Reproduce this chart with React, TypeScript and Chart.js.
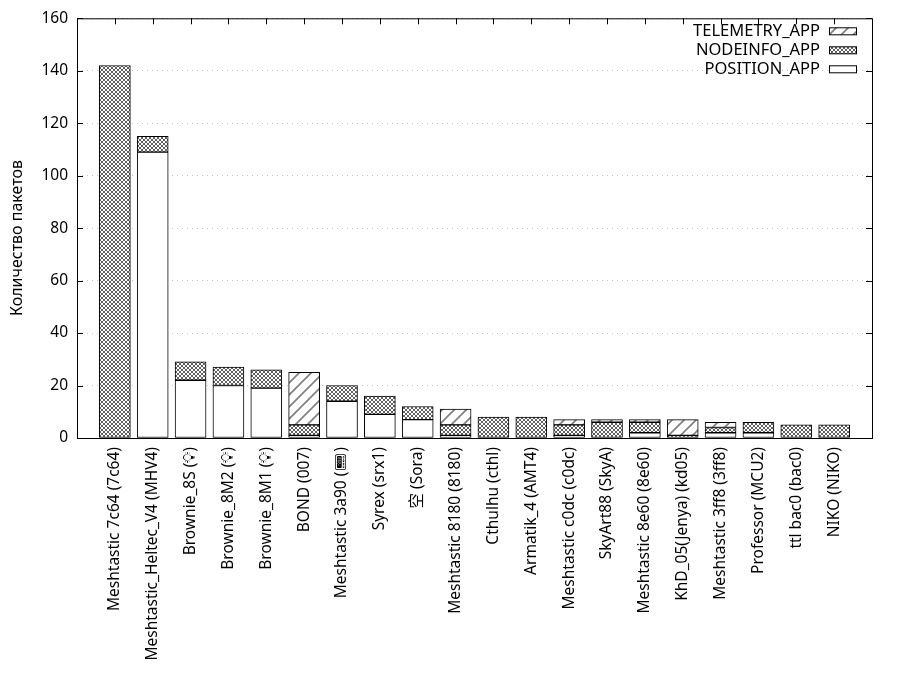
// Packet counts per node, stacked by port (gnuplot-style histogram)

import React, { useRef, useEffect } from 'react';
import { Chart, registerables } from 'chart.js';

Chart.register(...registerables);

const FONT = '"Noto Sans", "Noto Sans CJK SC", "DejaVu Sans", sans-serif';

const nodes = [
  'Meshtastic 7c64 (7c64)',
  'Meshtastic_Heltec_V4 (MHV4)',
  'Brownie_8S (💡\uFE0E)',
  'Brownie_8M2 (💡\uFE0E)',
  'Brownie_8M1 (💡\uFE0E)',
  'BOND (007)',
  'Meshtastic 3a90 (📟\uFE0E)',
  'Syrex (srx1)',
  '空 (Sora)',
  'Meshtastic 8180 (8180)',
  'Cthulhu (cthl)',
  'Armatik_4 (AMT4)',
  'Meshtastic c0dc (c0dc)',
  'SkyArt88 (SkyA)',
  'Meshtastic 8e60 (8e60)',
  'KhD_05(Jenya) (kd05)',
  'Meshtastic 3ff8 (3ff8)',
  'Professor (MCU2)',
  'ttl bac0 (bac0)',
  'NIKO (NIKO)',
];

const positionApp = [0, 109, 22, 20, 19, 1, 14, 9, 7, 1, 0, 0, 1, 0, 2, 0, 2, 2, 0, 0];
const nodeinfoApp = [142, 6, 7, 7, 7, 4, 6, 7, 5, 4, 8, 8, 4, 6, 4, 1, 2, 4, 5, 5];
const telemetryApp = [0, 0, 0, 0, 0, 20, 0, 0, 0, 6, 0, 0, 2, 1, 1, 6, 2, 0, 0, 0];

const yTicks = [0, 20, 40, 60, 80, 100, 120, 140, 160];
const yTitle = 'Количество пакетов';

function crossPattern(ctx: CanvasRenderingContext2D) {
  const c = document.createElement('canvas');
  c.width = 4;
  c.height = 4;
  const g = c.getContext('2d')!;
  g.fillStyle = '#fff';
  g.fillRect(0, 0, 4, 4);
  g.fillStyle = '#606060';
  for (let i = 0; i < 4; i++) {
    g.fillRect(i, i, 1, 1);
    g.fillRect(3 - i, i, 1, 1);
  }
  return ctx.createPattern(c, 'repeat')!;
}

function hatchPattern(ctx: CanvasRenderingContext2D) {
  const s = 12;
  const c = document.createElement('canvas');
  c.width = s;
  c.height = s;
  const g = c.getContext('2d')!;
  g.fillStyle = '#fff';
  g.fillRect(0, 0, s, s);
  g.strokeStyle = '#808080';
  g.lineWidth = 1.7;
  g.beginPath();
  g.moveTo(0, s);
  g.lineTo(s, 0);
  g.moveTo(-2, 2);
  g.lineTo(2, -2);
  g.moveTo(s - 2, s + 2);
  g.lineTo(s + 2, s - 2);
  g.stroke();
  return ctx.createPattern(c, 'repeat')!;
}

const orNull = (arr: number[]) => arr.map((v, i) => ({ x: i, y: v === 0 ? null : v }));

export default function App() {
  const canvasRef = useRef<HTMLCanvasElement>(null);
  const chartRef = useRef<Chart | null>(null);

  useEffect(() => {
    if (!canvasRef.current) return;
    if (chartRef.current) chartRef.current.destroy();
    const ctx = canvasRef.current.getContext('2d');
    if (!ctx) return;

    const cross = crossPattern(ctx);
    const hatch = hatchPattern(ctx);
    const white = '#ffffff';

    const legendItems = [
      { label: 'TELEMETRY_APP', fill: hatch },
      { label: 'NODEINFO_APP', fill: cross },
      { label: 'POSITION_APP', fill: white },
    ];

    const frame = {
      id: 'frame',
      afterDatasetsDraw(chart: any) {
        const { ctx: c, chartArea: a, scales } = chart;
        c.save();
        c.strokeStyle = '#000';
        c.lineWidth = 1;
        const line = (x1: number, y1: number, x2: number, y2: number) => {
          c.beginPath();
          c.moveTo(x1, y1);
          c.lineTo(x2, y2);
          c.stroke();
        };
        yTicks.forEach((v) => {
          const y = Math.round(scales.y.getPixelForValue(v)) + 0.5;
          line(a.left, y, a.left + 6, y);
          line(a.right - 6, y, a.right, y);
        });
        nodes.forEach((_, i) => {
          const x = Math.round(scales.x.getPixelForValue(i)) + 0.5;
          line(x, a.top, x, a.top + 6);
        });
        c.strokeRect(a.left + 0.5, a.top + 0.5, a.right - a.left, a.bottom - a.top);

        // legend, top right inside the plot
        c.font = `16.5px ${FONT}`;
        c.textAlign = 'right';
        c.textBaseline = 'middle';
        legendItems.forEach((item, k) => {
          const y = a.top + 13 + k * 19;
          c.fillStyle = '#000';
          c.fillText(item.label, 820, y);
          c.fillStyle = item.fill;
          c.fillRect(829.5, y - 3.5, 27, 7);
          c.strokeRect(829.5, y - 3.5, 27, 7);
        });

        // y axis title
        c.fillStyle = '#000';
        c.font = `16px ${FONT}`;
        c.translate(17, 238);
        c.rotate(-Math.PI / 2);
        c.textAlign = 'center';
        c.fillText(yTitle, 0, 0);
        c.restore();
      },
    };

    const common = {
      borderColor: '#000',
      borderWidth: 1,
      borderSkipped: false,
      barThickness: 31,
    };

    chartRef.current = new Chart(ctx, {
      type: 'bar',
      data: {
        datasets: [
          { label: 'POSITION_APP', data: orNull(positionApp), backgroundColor: white, ...common },
          { label: 'NODEINFO_APP', data: orNull(nodeinfoApp), backgroundColor: cross, ...common },
          { label: 'TELEMETRY_APP', data: orNull(telemetryApp), backgroundColor: hatch, ...common },
        ] as any,
      },
      options: {
        responsive: false,
        devicePixelRatio: 1,
        animation: false,
        layout: { padding: { top: 18, right: 28, left: 0, bottom: 0 } },
        plugins: {
          legend: { display: false },
          tooltip: { enabled: false },
        },
        scales: {
          x: {
            type: 'linear',
            stacked: true,
            offset: false,
            min: -1,
            max: 20,
            grid: { display: false, drawTicks: false, offset: false },
            border: { display: false },
            afterBuildTicks: (scale: any) => {
              scale.ticks = nodes.map((_, i) => ({ value: i }));
            },
            afterFit: (scale: any) => {
              scale.height = 262;
            },
            ticks: {
              autoSkip: false,
              minRotation: 90,
              maxRotation: 90,
              padding: 9,
              color: '#000',
              font: { family: FONT, size: 15.5 },
              callback: (value: any) => nodes[Math.round(Number(value))] ?? '',
            },
          },
          y: {
            stacked: true,
            min: 0,
            max: 160,
            grid: { color: '#c4c4c4', drawTicks: false, lineWidth: 1 },
            border: { display: false, dash: [1, 4] },
            afterFit: (scale: any) => {
              scale.width = 77;
            },
            ticks: {
              stepSize: 20,
              padding: 9,
              color: '#000',
              font: { family: FONT, size: 15.5 },
            },
          },
        },
      } as any,
      plugins: [frame],
    });

    return () => {
      if (chartRef.current) {
        chartRef.current.destroy();
        chartRef.current = null;
      }
    };
  }, []);

  return (
    <div style={{ position: 'fixed', left: 0, top: 0, width: 900, height: 700, background: '#fff' }}>
      <canvas ref={canvasRef} width={900} height={700} />
    </div>
  );
}
